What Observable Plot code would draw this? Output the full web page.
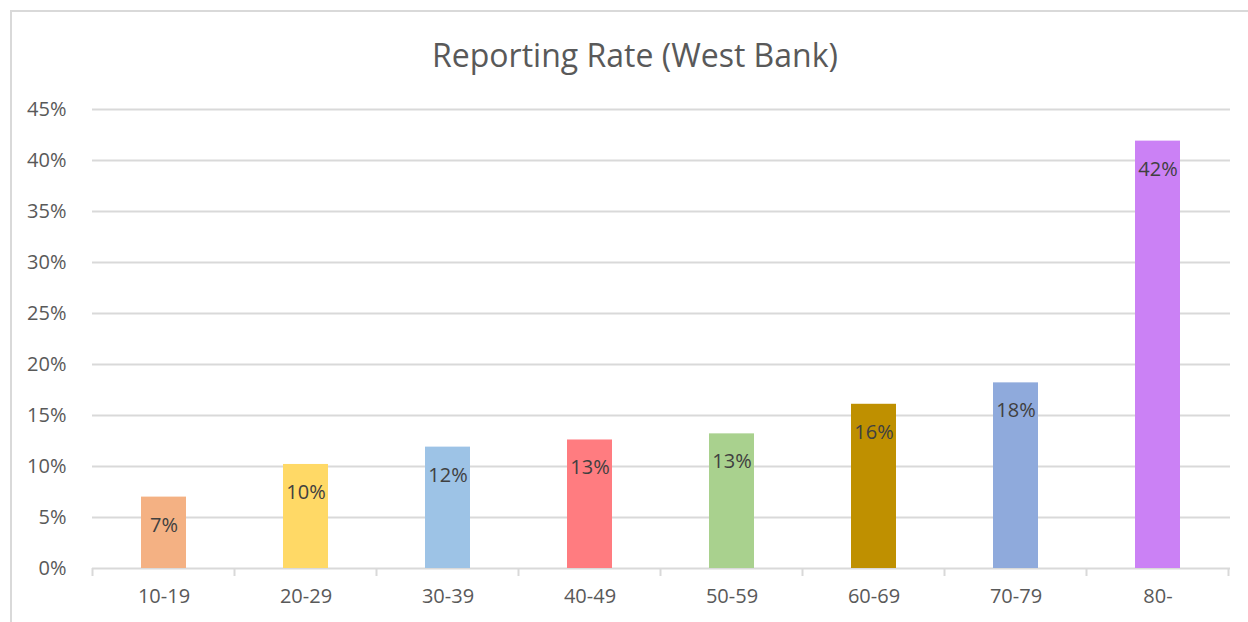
<!DOCTYPE html>
<html>
<head>
<meta charset="utf-8">
<script src="https://cdn.jsdelivr.net/npm/d3@7"></script>
<script src="https://cdn.jsdelivr.net/npm/@observablehq/plot@0.6"></script>
<style>
  html, body { margin: 0; padding: 0; background: #fff; }
  #wrap { position: relative; width: 1248px; height: 622px; overflow: hidden; font-family: "Open Sans", sans-serif; }
  #frame { position: absolute; left: 10px; top: 10px; width: 1300px; height: 700px; border-left: 2px solid #d9d9d9; border-top: 2px solid #d9d9d9; }
  #title { position: absolute; left: 0; width: 1270px; top: 33px; text-align: center; font-size: 32px; color: #595959; line-height: normal; }
  #chart { position: absolute; left: 0; top: 0; }
</style>
</head>
<body>
<div id="wrap">
  <div id="frame"></div>
  <div id="chart"></div>
  <div id="title">Reporting Rate (West Bank)</div>
</div>
<script>
const ageGroups = ["10-19", "20-29", "30-39", "40-49", "50-59", "60-69", "70-79", "80-"];
const rates = [7.0, 10.2, 11.9, 12.6, 13.2, 16.1, 18.2, 41.9];
const barColors = ["#F4B183", "#FFD966", "#9DC3E6", "#FF7C80", "#A9D18E", "#BF9000", "#8FAADC", "#CB81F5"];
const yTicks = [0, 5, 10, 15, 20, 25, 30, 35, 40, 45];

const data = ageGroups.map((g, i) => ({age: g, rate: rates[i]}));

function boundaryTicks(index, scales, values, dimensions, context) {
  const x = scales.x;
  const step = x.step();
  const gap = (step - x.bandwidth()) / 2;
  const y0 = scales.y(0);
  const xs = ageGroups.map(c => x(c) - gap);
  xs.push(xs[xs.length - 1] + step);
  const g = d3.create("svg:g");
  g.selectAll("line").data(xs).join("line")
    .attr("x1", d => d).attr("x2", d => d)
    .attr("y1", y0).attr("y2", y0 + 8)
    .attr("stroke", "#d9d9d9").attr("stroke-width", 2);
  return g.node();
}

const chart = Plot.plot({
  width: 1248,
  height: 622,
  marginLeft: 92,
  marginRight: 18,
  marginTop: 109,
  marginBottom: 54,
  style: {fontFamily: "Open Sans, sans-serif", fontSize: "20px", color: "#595959", background: "transparent"},
  x: {domain: ageGroups, paddingInner: 0.68, paddingOuter: 0.34, label: null},
  y: {domain: [0, 45], label: null},
  color: {domain: ageGroups, range: barColors},
  marks: [
    Plot.gridY(yTicks, {stroke: "#d9d9d9", strokeOpacity: 1, strokeWidth: 2}),
    Plot.axisY(yTicks, {tickSize: 0, tickPadding: 26, tickFormat: d => d + "%", fontSize: 20, fill: "#595959"}),
    Plot.axisX({tickSize: 0, tickPadding: 20, fontSize: 20, fill: "#595959"}),
    boundaryTicks,
    Plot.barY(data, {x: "age", y: "rate", fill: "age"}),
    Plot.text(data, {x: "age", y: "rate", text: d => Math.round(d.rate) + "%", dy: 28, fill: "#404040", fontSize: 20})
  ]
});
document.getElementById("chart").appendChild(chart);
</script>
</body>
</html>
